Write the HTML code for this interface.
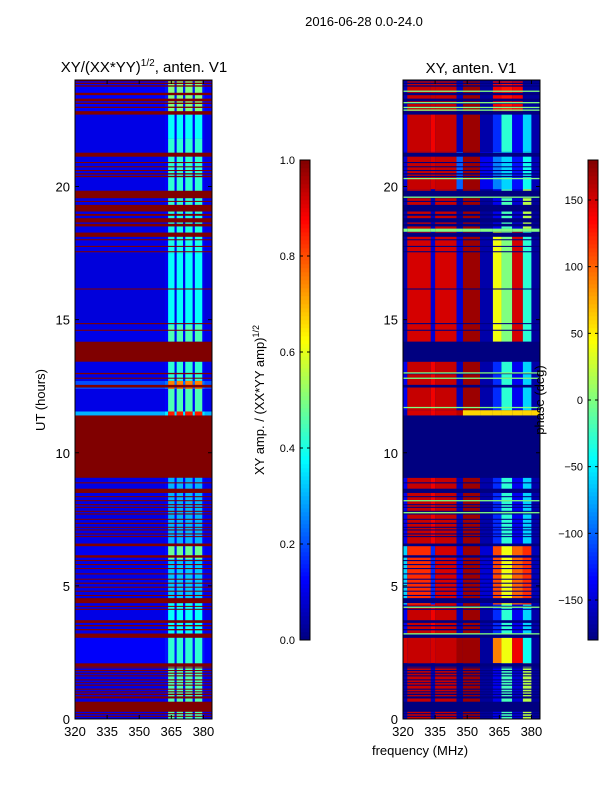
<!DOCTYPE html>
<html><head><meta charset="utf-8">
<style>
body{margin:0;background:#fff;}
svg{display:block;font-family:"Liberation Sans",sans-serif;}
</style></head>
<body>
<svg id="fig" width="600" height="800" viewBox="0 0 600 800" xmlns="http://www.w3.org/2000/svg">
<rect x="0" y="0" width="600" height="800" fill="#fff"/>
<text x="364" y="26" font-size="13" text-anchor="middle">2016-06-28 0.0-24.0</text>
<text x="144" y="72" font-size="15" text-anchor="middle">XY/(XX*YY)<tspan font-size="10" dy="-6">1/2</tspan><tspan dy="6">, anten. V1</tspan></text>
<text x="471" y="73" font-size="15" text-anchor="middle">XY, anten. V1</text>
<g id="left"></g>
<g id="right"></g>
<g id="axes"></g>
<g id="cbars"></g>
<text transform="translate(45,400) rotate(-90)" font-size="13" text-anchor="middle">UT (hours)</text>
<text x="420" y="755" font-size="13" text-anchor="middle">frequency (MHz)</text>
<text transform="translate(264,400) rotate(-90)" font-size="13" text-anchor="middle">XY amp. / (XX*YY amp)<tspan font-size="9" dy="-5">1/2</tspan></text>
<text transform="translate(544,400) rotate(-90)" font-size="13" text-anchor="middle">phase (deg)</text>
</svg>
<script>
const flags = [[0.08,0.12],[0.18,0.22],[0.27,0.65],[0.77,0.85],[0.9,0.95],[1.0,1.04],[1.1,1.14],[1.25,1.29],[1.35,1.38],[1.45,1.49],[1.6,1.64],[1.7,1.74],[1.8,1.84],[1.9,1.94],[1.96,2.09],[3.05,3.21],[3.33,3.38],[3.48,3.53],[3.61,3.71],[4.1,4.14],[4.21,4.25],[4.35,4.54],[4.62,4.66],[4.78,4.82],[4.93,4.97],[5.08,5.12],[5.23,5.27],[5.43,5.47],[5.63,5.67],[5.78,5.82],[5.93,5.97],[6.06,6.15],[6.49,6.59],[6.83,6.87],[6.93,6.97],[7.08,7.12],[7.18,7.22],[7.33,7.37],[7.48,7.52],[7.68,7.72],[7.78,7.82],[7.93,7.97],[8.03,8.07],[8.18,8.22],[8.33,8.37],[8.49,8.65],[8.85,8.89],[9.06,11.4],[12.45,12.55],[12.78,12.82],[12.95,13.0],[13.42,14.17],[14.58,14.62],[14.83,14.87],[16.13,16.17],[17.53,17.57],[17.73,17.77],[17.98,18.02],[18.11,18.27],[18.5,18.6],[18.65,18.81],[18.9,18.97],[19.06,19.31],[19.42,19.46],[19.56,19.84],[20.35,20.4],[20.45,20.5],[20.58,20.62],[20.72,20.76],[20.88,20.92],[21.12,21.27],[22.7,22.83],[22.95,23.0],[23.1,23.15],[23.2,23.3],[23.43,23.52],[23.75,23.8],[23.85,23.9],[23.95,24]];
const leftFreqEdges = [320,362,363.5,366.5,367.5,370.5,371.5,375,376,379.5,380.5,384];
const leftBandType = [0,2,1,2,1,2,1,2,1,2,0];
const leftSegments = [[0,2.1,0.1,0.45],[2.1,3.2,0.12,0.42],[3.2,4.5,0.1,0.38],[4.5,6,0.1,0.32],[6,6.6,0.11,0.48],[6.6,9.1,0.1,0.3],[11.4,11.55,0.3,0.85],[11.55,12.4,0.1,0.45],[12.4,12.7,0.2,0.75],[12.7,13.42,0.1,0.42],[14.17,14.8,0.1,0.45],[14.8,17.5,0.09,0.38],[17.5,19,0.1,0.4],[19,20.9,0.1,0.42],[20.9,21.8,0.1,0.42],[21.8,22.7,0.1,0.38],[22.7,24,0.12,0.5]];
const rightFreqEdges = [320,322,333,335,345,348,356,362,366,371,376,380,384];
const profA = [-140,155,140,155,-160,170,-165,-120,-30,-140,-60,-165];
const profB = [-165,150,-150,150,-150,170,-165,40,0,150,-30,-170];
const profC = [-165,155,-160,155,-170,170,-170,-140,-20,-150,20,-170];
const profD = [150,155,150,155,170,170,-170,90,40,140,-40,-170];
const profE = [-160,150,140,150,160,60,60,60,60,60,60,60];
const profF = [-60,120,-120,150,-140,170,-150,110,40,100,120,-160];
const profG = [-150,155,150,155,-100,170,-140,-90,-60,-130,-40,-160];
const profH = [-160,155,155,155,-160,170,-170,140,130,140,-170,-170];
const profGreen = [0,0,0,0,0,0,0,0,0,0,0,0];
const rightSegments = [[0,2.1,profC],[2.1,3.05,profD],[3.05,4.3,profA],[4.3,6.5,profF],[6.5,9.06,profA],[11.4,11.6,profE],[11.6,13.42,profA],[14.17,18.3,profB],[18.3,18.42,profGreen],[18.42,19.9,profC],[19.9,21.3,profG],[21.3,22.8,profA],[22.8,24,profH]];
const greenLines = [11.7,8.2,7.75,4.2,3.2,23.58,23.15,22.97,22.87,20.3,19.6,13.0,12.8];
const yTicks = [0,5,10,15,20];
const xTicks = [320,335,350,365,380];
const ampTicks = [0.0,0.2,0.4,0.6,0.8,1.0];
const phaseTicks = [-150,-100,-50,0,50,100,150];

const NS='http://www.w3.org/2000/svg';
function jet(v){v=Math.max(0,Math.min(1,v));
 const c=x=>Math.round(255*Math.max(0,Math.min(1,1.5-Math.abs(4*v-x))));
 return `rgb(${c(3)},${c(2)},${c(1)})`;}
const PH={top:80,bot:719};
const yS=h=>PH.bot-h*(PH.bot-PH.top)/24;
function xS(L){return f=>L+(f-320)*137/64;}
function rect(g,x,y,w,h,fill,name){const r=document.createElementNS(NS,'rect');
 r.setAttribute('x',x);r.setAttribute('y',y);r.setAttribute('width',Math.max(w,0));r.setAttribute('height',Math.max(h,0.8));r.setAttribute('fill',fill);
 
 
 g.appendChild(r);return r;}
function line(g,x1,y1,x2,y2,name){const l=document.createElementNS(NS,'line');
 l.setAttribute('x1',x1);l.setAttribute('y1',y1);l.setAttribute('x2',x2);l.setAttribute('y2',y2);l.setAttribute('stroke','#000');l.setAttribute('stroke-width',1);
 
 
 g.appendChild(l);}
function text(g,x,y,s,anchor,size,name){const t=document.createElementNS(NS,'text');
 t.setAttribute('x',x);t.setAttribute('y',y);t.setAttribute('text-anchor',anchor);t.setAttribute('font-size',size);t.textContent=s;
 
 
 g.appendChild(t);}

// left panel
const gl=document.getElementById('left'); const xl=xS(75);
rect(gl,75,80,137,639,jet(0.1),'left-background');
leftSegments.forEach(s=>{
 for(let i=0;i<leftBandType.length;i++){
  const t=leftBandType[i]; const v=t===1?s[3]:(t===2?s[2]*1.2:s[2]);
  rect(gl,xl(leftFreqEdges[i]),yS(s[1]),xl(leftFreqEdges[i+1])-xl(leftFreqEdges[i]),yS(s[0])-yS(s[1]),jet(v),'amp-cell');
 }});
flags.forEach(f=>rect(gl,75,yS(f[1]),137,yS(f[0])-yS(f[1]),jet(1),'amp-flag-row'));

// right panel
const gr=document.getElementById('right'); const xr=xS(403);
rect(gr,403,80,137,639,jet(0.02),'right-background');
rightSegments.forEach(s=>{
 for(let i=0;i<rightFreqEdges.length-1;i++){
  rect(gr,xr(rightFreqEdges[i]),yS(s[1]),xr(rightFreqEdges[i+1])-xr(rightFreqEdges[i]),yS(s[0])-yS(s[1]),jet((s[2][i]+180)/360),'phase-cell');
 }});
flags.forEach(f=>rect(gr,403,yS(f[1]),137,yS(f[0])-yS(f[1]),jet(0),'phase-flag-row'));
greenLines.forEach(h=>rect(gr,403,yS(h)-0.6,137,1.3,jet(0.5),'phase-green-line'));

// axes
const ga=document.getElementById('axes');
[[75,xl,'left'],[403,xr,'right']].forEach(([L,xs,nm])=>{
 const fr=document.createElementNS(NS,'rect');
 fr.setAttribute('x',L);fr.setAttribute('y',80);fr.setAttribute('width',137);fr.setAttribute('height',639);fr.setAttribute('fill','none');fr.setAttribute('stroke','#000');
 
 
 ga.appendChild(fr);
 yTicks.forEach(t=>{const y=yS(t);line(ga,L,y,L+4,y,'y-tick');line(ga,L+137,y,L+133,y,'y-tick');text(ga,L-5,y+5,String(t),'end',13,'y-tick-label');});
 xTicks.forEach(t=>{const x=xs(t);line(ga,x,719,x,715,'x-tick');line(ga,x,80,x,84,'x-tick');text(ga,x,736,String(t),'middle',13,'x-tick-label');});
});

// colorbars
const gc=document.getElementById('cbars');
function cbar(X,ticks,lo,hi,fmt,nm){
 for(let i=0;i<120;i++){const v=i/120;rect(gc,X,640-(i+1)*4,10,4.3,jet(v+1/240),nm+'-colorbar-segment');}
 const fr=document.createElementNS(NS,'rect');
 fr.setAttribute('x',X);fr.setAttribute('y',160);fr.setAttribute('width',10);fr.setAttribute('height',480);fr.setAttribute('fill','none');fr.setAttribute('stroke','#000');
 
 
 gc.appendChild(fr);
 ticks.forEach(t=>{const y=640-(t-lo)/(hi-lo)*480;line(gc,X,y,X+3,y,nm+'-colorbar-tick');line(gc,X+10,y,X+7,y,nm+'-colorbar-tick');text(gc,X-5,y+4,fmt(t),'end',11,nm+'-colorbar-label');});
}
cbar(300,ampTicks,0,1,t=>t.toFixed(1),'amplitude');
cbar(588,phaseTicks,-180,180,t=>t<0?'\u2212'+(-t):String(t),'phase');
</script>
</body></html>
